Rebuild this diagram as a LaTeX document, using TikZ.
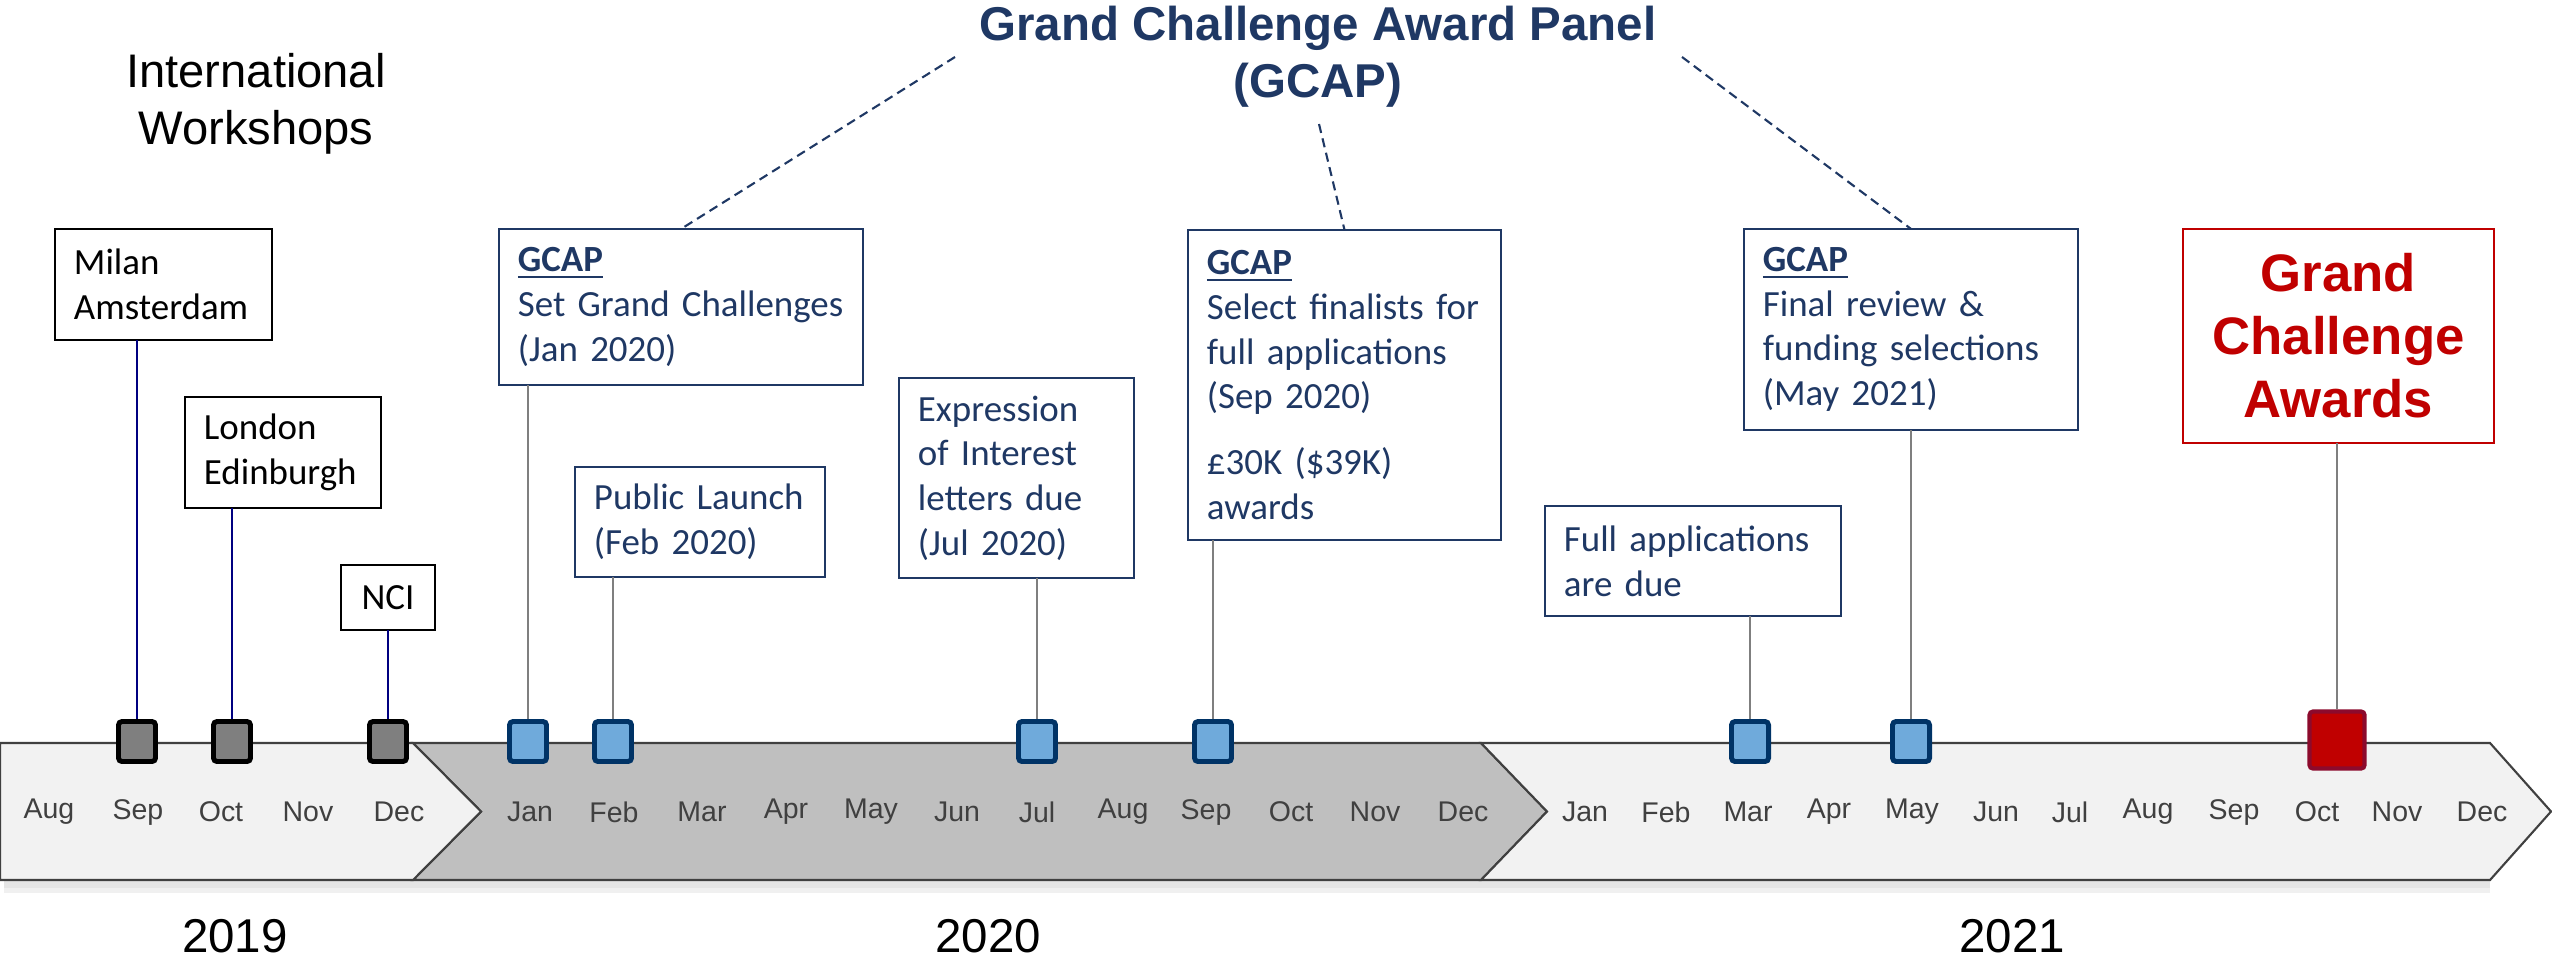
\documentclass[tikz,border=0pt]{standalone}
\usepackage{fontspec}
\setmainfont{Carlito}
\newfontfamily\arial{Liberation Sans}
\definecolor{navy}{RGB}{31,56,100}
\definecolor{wsline}{RGB}{0,0,128}
\definecolor{conn}{RGB}{127,127,127}
\definecolor{bandlight}{RGB}{242,242,242}
\definecolor{banddark}{RGB}{191,191,191}
\definecolor{bandline}{RGB}{64,64,64}
\definecolor{monthtxt}{RGB}{64,64,64}
\definecolor{mkblue}{RGB}{111,170,219}
\definecolor{mkborder}{RGB}{0,51,102}
\definecolor{awred}{RGB}{192,0,0}
\definecolor{awborder}{RGB}{140,10,44}
\tikzset{
  band/.style={draw=bandline, line width=0.6pt, line join=miter},
  month/.style={font=\arial\fontsize{8.1}{9.7}\selectfont, text=monthtxt, inner sep=0pt},
  year/.style={font=\arial\fontsize{13.5}{16.2}\selectfont, inner sep=0pt},
  box/.style={draw, line width=0.7pt, outer sep=0pt, inner xsep=0.19cm, inner ysep=0pt, align=left,
    font=\fontsize{10.5}{12.7}\selectfont},
  wsbox/.style={box, draw=black, text=black},
  gcbox/.style={box, draw=navy, text=navy},
  awbox/.style={draw=awred, line width=0.7pt, outer sep=0pt, inner sep=0pt, align=center, text=awred,
    font=\arial\bfseries\fontsize{15}{17.9}\selectfont},
  wsmark/.style={draw=black, fill=conn, line width=1.4pt, minimum width=0.37cm,
    minimum height=0.40cm, inner sep=0pt, rounded corners=1pt},
  gcmark/.style={draw=mkborder, fill=mkblue, line width=1.4pt, minimum width=0.37cm,
    minimum height=0.40cm, inner sep=0pt, rounded corners=1pt},
  awmark/.style={draw=awborder, fill=awred, line width=1.2pt, minimum width=0.55cm,
    minimum height=0.57cm, inner sep=0pt, rounded corners=1pt},
  wsconn/.style={draw=wsline, line width=0.45pt},
  gcconn/.style={draw=conn, line width=0.45pt},
  panel/.style={draw=navy, line width=0.6pt, dash pattern=on 2.6pt off 1.6pt},
}
\begin{document}
\begin{tikzpicture}[x=0.01cm,y=-0.01cm]
\useasboundingbox (0,0) rectangle (2552,960);

% soft shadow under the band
\fill[black, opacity=0.10] (4,880) rectangle (2490,888);
\fill[black, opacity=0.06] (4,888) rectangle (2490,893);

% timeline band
\path[band, fill=banddark] (413,743) -- (1481,743) -- (1547,811.5) -- (1481,880) -- (413,880) -- (481,811.5) -- cycle;
\path[band, fill=bandlight] (0,743) -- (413,743) -- (481,811.5) -- (413,880) -- (0,880) -- cycle;
\path[band, fill=bandlight] (1481,743) -- (2490,743) -- (2551,811.5) -- (2490,880) -- (1481,880) -- (1547,811.5) -- cycle;

% months
\foreach \x/\m [count=\i] in {49/Aug,138/Sep,221/Oct,308/Nov,399/Dec,
  530/Jan,614/Feb,702/Mar,786/Apr,871/May,957/Jun,1037/Jul,1123/Aug,1206/Sep,1291/Oct,1375/Nov,1463/Dec,
  1585/Jan,1666/Feb,1748/Mar,1829/Apr,1912/May,1996/Jun,2070/Jul,2148/Aug,2234/Sep,2317/Oct,2397/Nov,2482/Dec}
  {\node[month] (m\i) at (\x,812) {\m};}

% years
\node[year] (y2019) at (235,936) {2019};
\node[year] (y2020) at (988,936) {2020};
\node[year] (y2021) at (2012,936) {2021};

% headings
\node[font=\arial\fontsize{13.4}{16.2}\selectfont, align=center, inner sep=0pt] (ws) at (256,104) {International\\Workshops};
\node[font=\arial\bfseries\fontsize{13.5}{16.2}\selectfont, text=navy, align=center, inner sep=0pt] (title) at (1318,57) {Grand Challenge Award Panel\\(GCAP)};

% boxes
\node[wsbox, minimum width=2.17cm, minimum height=1.11cm, text width=1.79cm] (milan) at (163.5,284.5) {Milan\\Amsterdam};
\node[wsbox, minimum width=1.96cm, minimum height=1.11cm, text width=1.58cm] (london) at (283,452.5) {London\\Edinburgh};
\node[wsbox, minimum width=0.94cm, minimum height=0.65cm, align=center] (nci) at (388,597.5) {NCI};
\node[gcbox, minimum width=3.64cm, minimum height=1.56cm, text width=3.26cm] (gcap1) at (681,307) {\underline{\textbf{GCAP}}\\Set Grand Challenges\\(Jan 2020)};
\node[gcbox, minimum width=2.50cm, minimum height=1.10cm, text width=2.12cm] (launch) at (700,522) {Public Launch\\(Feb 2020)};
\node[gcbox, minimum width=2.35cm, minimum height=2.00cm, text width=1.97cm] (expr) at (1016.5,478) {Expression\\of Interest\\letters due\\(Jul 2020)};
\node[gcbox, minimum width=3.13cm, minimum height=3.10cm, text width=2.75cm] (gcap2) at (1344.5,385) {\underline{\textbf{GCAP}}\\Select finalists for\\full applications\\(Sep 2020)\\[0.21cm]\pounds30K (\$39K)\\awards};
\node[gcbox, minimum width=2.96cm, minimum height=1.10cm, text width=2.58cm] (fullapp) at (1693,561) {Full applications\\are due};
\node[gcbox, minimum width=3.34cm, minimum height=2.01cm, text width=2.96cm] (gcap3) at (1911,329.5) {\underline{\textbf{GCAP}}\\Final review \&\\funding selections\\(May 2021)};
\node[awbox, minimum width=3.11cm, minimum height=2.14cm] (awards) at (2338.5,336) {Grand\\Challenge\\Awards};

% markers
\node[wsmark] (k1) at (137,741.5) {};
\node[wsmark] (k2) at (232,741.5) {};
\node[wsmark] (k3) at (388,741.5) {};
\node[gcmark] (k4) at (528,741.5) {};
\node[gcmark] (k5) at (613,741.5) {};
\node[gcmark] (k6) at (1037,741.5) {};
\node[gcmark] (k7) at (1213,741.5) {};
\node[gcmark] (k8) at (1750,741.5) {};
\node[gcmark] (k9) at (1911,741.5) {};
\node[awmark] (k10) at (2337,740) {};

% connectors
\draw[wsconn] (k1.north) -- (k1.north |- milan.south);
\draw[wsconn] (k2.north) -- (k2.north |- london.south);
\draw[wsconn] (k3.north) -- (k3.north |- nci.south);
\draw[gcconn] (k4.north) -- (k4.north |- gcap1.south);
\draw[gcconn] (k5.north) -- (k5.north |- launch.south);
\draw[gcconn] (k6.north) -- (k6.north |- expr.south);
\draw[gcconn] (k7.north) -- (k7.north |- gcap2.south);
\draw[gcconn] (k8.north) -- (k8.north |- fullapp.south);
\draw[gcconn] (k9.north) -- (k9.north |- gcap3.south);
\draw[gcconn] (k10.north) -- (k10.north |- awards.south);

% panel links
\coordinate (pl) at (955,57);
\coordinate (pm) at (1319,124);
\coordinate (pr) at (1682,57);
\draw[panel] (pl) -- (gcap1.north);
\draw[panel] (pm) -- (gcap2.north);
\draw[panel] (pr) -- (gcap3.north);
\end{tikzpicture}
\end{document}
